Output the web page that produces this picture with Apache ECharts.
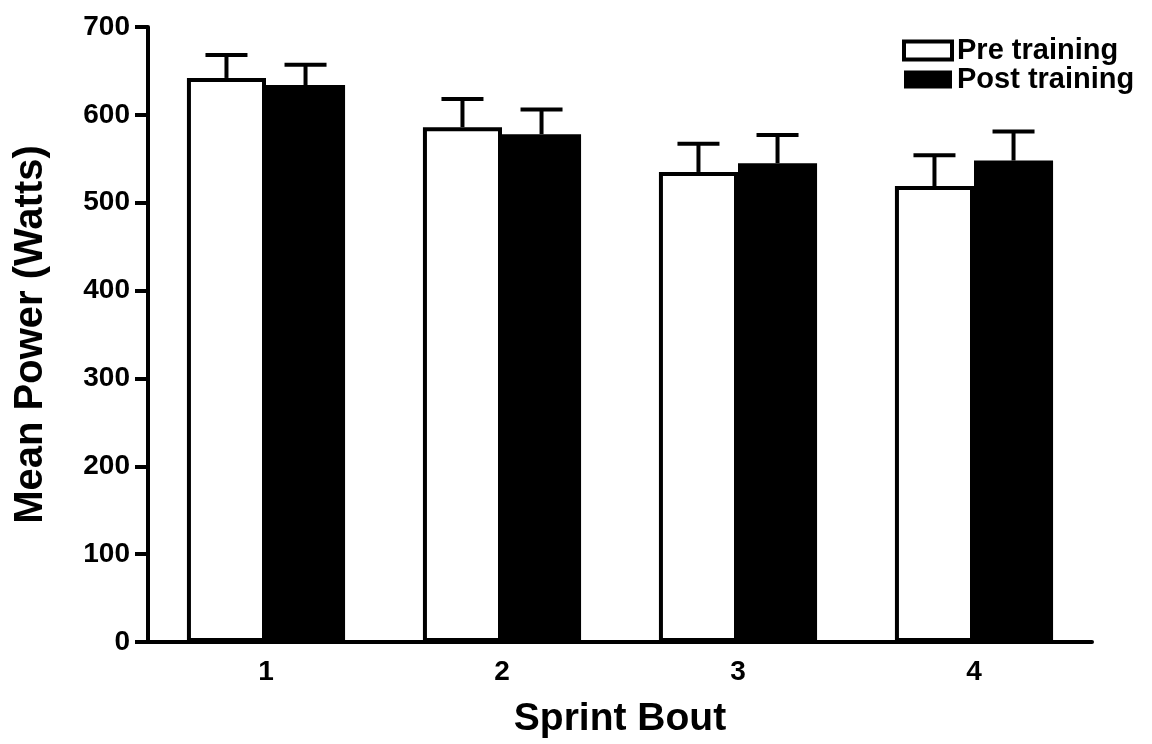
<!DOCTYPE html>
<html>
<head>
<meta charset="utf-8">
<title>Mean Power by Sprint Bout</title>
<script src="https://cdn.jsdelivr.net/npm/echarts@6/dist/echarts.min.js"></script>
<style>
  html, body { margin: 0; padding: 0; background: #ffffff; }
  #chart { width: 1152px; height: 744px; }
</style>
</head>
<body>
<div id="chart"></div>
<script>
// Sprint bouts on the x axis
const bouts = ['1', '2', '3', '4'];
// Mean power (W) before and after training
const preTraining = [642, 586, 535, 519];
const postTraining = [634, 578, 545, 548];
// Upper error bars (W)
const preError = [26, 32, 32, 35];
const postError = [23, 28, 32, 33];
// Y axis ticks
const yTicks = [0, 100, 200, 300, 400, 500, 600, 700];

const FONT = '"Liberation Sans", Arial, Helvetica, sans-serif';
const CATEGORY_GAP = 0.33; // fraction of each band left empty

const chart = echarts.init(document.getElementById('chart'), null, { renderer: 'canvas' });

// Draws a T-shaped upper error bar over bar `slot` (0 = left, 1 = right) of each group
function errorBar(slot) {
  return function (params, api) {
    const cat = api.value(0);
    const mean = api.value(1);
    const err = api.value(2);
    const base = api.coord([cat, mean]);
    const top = api.coord([cat, mean + err]);
    const band = api.size([1, 0])[0];
    const barW = band * (1 - CATEGORY_GAP) / 2;
    const x = base[0] + (slot - 0.5) * barW;
    const capHalf = 21;
    const style = { stroke: '#000', lineWidth: 4, lineCap: 'butt' };
    return {
      type: 'group',
      children: [
        { type: 'line', shape: { x1: x, y1: base[1], x2: x, y2: top[1] }, style: style },
        { type: 'line', shape: { x1: x - capHalf, y1: top[1], x2: x + capHalf, y2: top[1] }, style: style }
      ]
    };
  };
}

const option = {
  backgroundColor: '#ffffff',
  animation: false,
  textStyle: { fontFamily: FONT, fontWeight: 'bold', color: '#000' },
  grid: { left: 148, right: 60, top: 27, bottom: 97, containLabel: false },
  legend: {
    orient: 'vertical',
    left: 902,
    top: 36,
    padding: 0,
    itemWidth: 48,
    itemHeight: 18,
    itemGap: 0,
    icon: 'rect',
    textStyle: { fontFamily: FONT, fontWeight: 'bold', fontSize: 29, color: '#000' },
    data: [
      { name: 'Pre training', itemStyle: { color: '#ffffff', borderColor: '#000', borderWidth: 4 } },
      { name: 'Post training', itemStyle: { color: '#000000', borderWidth: 0 } }
    ]
  },
  xAxis: {
    type: 'category',
    data: bouts,
    name: 'Sprint Bout',
    nameLocation: 'middle',
    nameGap: 58,
    nameTextStyle: { fontFamily: FONT, fontWeight: 'bold', fontSize: 39, color: '#000' },
    axisLine: { lineStyle: { color: '#000', width: 4 } },
    axisTick: { show: false },
    axisLabel: { fontFamily: FONT, fontWeight: 'bold', fontSize: 28, color: '#000', margin: 16 },
    splitLine: { show: false }
  },
  yAxis: {
    type: 'value',
    min: yTicks[0],
    max: yTicks[yTicks.length - 1],
    interval: yTicks[1] - yTicks[0],
    name: 'Mean Power (Watts)',
    nameLocation: 'middle',
    nameGap: 97,
    nameRotate: 90,
    nameTextStyle: { fontFamily: FONT, fontWeight: 'bold', fontSize: 40, color: '#000' },
    axisLine: { show: true, lineStyle: { color: '#000', width: 4 } },
    axisTick: { show: true, length: 13, lineStyle: { color: '#000', width: 4 } },
    axisLabel: { fontFamily: FONT, fontWeight: 'bold', fontSize: 28, color: '#000', margin: 18 },
    splitLine: { show: false }
  },
  series: [
    {
      name: 'Pre training',
      type: 'bar',
      data: preTraining,
      barGap: '0%',
      barCategoryGap: (CATEGORY_GAP * 100) + '%',
      itemStyle: { color: '#ffffff', borderColor: '#000', borderWidth: 4 },
      z: 2
    },
    {
      name: 'Post training',
      type: 'bar',
      data: postTraining,
      barGap: '0%',
      barCategoryGap: (CATEGORY_GAP * 100) + '%',
      itemStyle: { color: '#000000', borderColor: '#000', borderWidth: 0 },
      z: 2
    },
    {
      name: 'Pre error',
      type: 'custom',
      renderItem: errorBar(0),
      data: preTraining.map((v, i) => [i, v, preError[i]]),
      encode: { x: 0, y: 1 },
      z: 3,
      silent: true
    },
    {
      name: 'Post error',
      type: 'custom',
      renderItem: errorBar(1),
      data: postTraining.map((v, i) => [i, v, postError[i]]),
      encode: { x: 0, y: 1 },
      z: 3,
      silent: true
    }
  ]
};

chart.setOption(option);
</script>
</body>
</html>
